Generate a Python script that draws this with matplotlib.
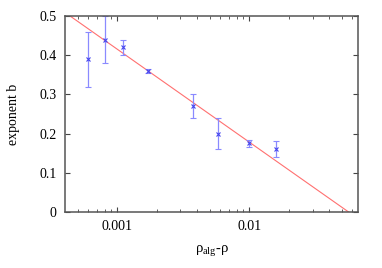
import matplotlib
matplotlib.use("Agg")
import matplotlib.pyplot as plt
from matplotlib.ticker import LogLocator, FixedLocator, NullFormatter

# data
rho_diff = [6.03e-4, 8.03e-4, 1.104e-3, 1.70e-3, 3.73e-3, 5.77e-3, 9.83e-3, 1.58e-2]
b_vals = [0.39, 0.44, 0.42, 0.36, 0.27, 0.20, 0.175, 0.16]
b_err = [0.07, 0.06, 0.02, 0.006, 0.03, 0.04, 0.008, 0.02]

# fitted line (straight in log-x), two end points
fit_x = [4.39e-4, 5.62e-2]
fit_y = [0.5, 0.0]

plt.rcParams['font.family'] = ['Liberation Serif', 'DejaVu Serif']
plt.rcParams['mathtext.fontset'] = 'custom'
plt.rcParams['mathtext.rm'] = 'Liberation Serif'
plt.rcParams['mathtext.it'] = 'Liberation Serif'

fig = plt.figure(figsize=(3.82, 2.68), dpi=100)
ax = fig.add_axes([65 / 382, 1 - 212 / 268, 293 / 382, 196 / 268])

ax.plot(fit_x, fit_y, color='#ff7070', linewidth=0.8)
ax.errorbar(rho_diff, b_vals, yerr=b_err, fmt='x', color='#4444ee', ecolor='#8a8aff',
            markersize=3, markeredgewidth=0.8, elinewidth=0.9, capsize=2, capthick=0.9)

ax.set_xscale('log')
ax.set_xlim(4.02e-4, 0.0662)
ax.set_ylim(0, 0.5)
ax.xaxis.set_major_locator(FixedLocator([0.001, 0.01]))
ax.set_xticklabels(['0.001', '0.01'])
ax.xaxis.set_minor_locator(LogLocator(base=10, subs=range(2, 10)))
ax.xaxis.set_minor_formatter(NullFormatter())
ax.set_yticks([0, 0.1, 0.2, 0.3, 0.4, 0.5])
ax.set_yticklabels(['0', '0.1', '0.2', '0.3', '0.4', '0.5'])

ax.tick_params(which='both', direction='in', top=True, right=True, labelsize=10,
               color='#444444', pad=6)
ax.tick_params(which='major', length=3.5, width=0.8)
ax.tick_params(which='minor', length=2, width=0.6)
for s in ax.spines.values():
    s.set_color('#555555')
    s.set_linewidth(1.1)

ax.set_ylabel('exponent b', fontsize=10, labelpad=14)
ax.set_xlabel(r'$\rho_{\rm alg}$-$\rho$', fontsize=10.5, labelpad=7)

fig.savefig('out.png', dpi=100)
